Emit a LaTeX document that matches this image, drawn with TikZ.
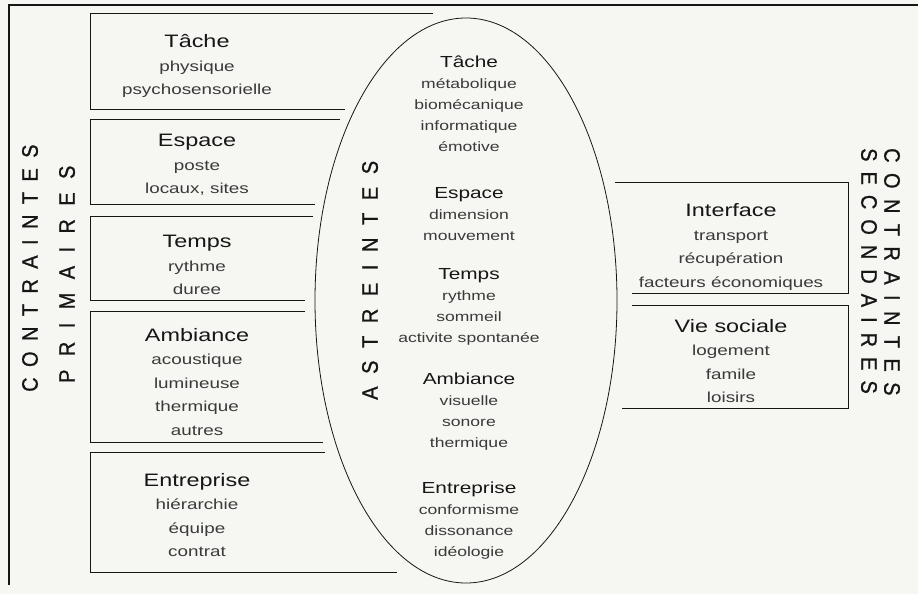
\documentclass[tikz,border=0pt]{standalone}
\usepackage{fontspec}
\usepackage{graphicx}
\setmainfont{Liberation Sans}
\newfontfamily\widesans[FakeStretch=1.3]{Liberation Sans}
\newfontfamily\capsans[FakeBold=1]{Liberation Sans}
\definecolor{paper}{RGB}{246,246,242}
\definecolor{ink}{RGB}{22,22,22}
\definecolor{softink}{RGB}{58,58,58}

% headings inside the boxes and inside the ellipse
\newcommand\boxtitle[1]{{\fontsize{18}{23.5}\selectfont\color{ink}#1}}
\newcommand\ovaltitle[1]{{\fontsize{16}{21}\selectfont\color{ink}#1}}
% widely tracked capitals for the vertical labels
\newcommand\tracked[2]{\scalebox{1}[1.12]{\capsans\addfontfeature{LetterSpace=#1}\fontsize{20}{20}\selectfont #2}}

\tikzset{
  frameline/.style={draw=ink, line width=1.6pt},
  boxline/.style={draw=ink, line width=0.8pt},
  sideblk/.style={align=center, inner sep=0pt, text=softink,
    font=\widesans\fontsize{14.5}{23.5}\selectfont},
  ovalblk/.style={align=center, inner sep=0pt, text=softink,
    font=\widesans\fontsize{13.5}{21}\selectfont},
  vlabel/.style={inner sep=0pt, text=ink, anchor=west},
}

\begin{document}
\begin{tikzpicture}[x=1pt, y=-1pt]
  \fill[paper] (0,0) rectangle (918,594);
  \useasboundingbox (0,0) rectangle (918,594);

  % outer frame (top and left)
  \draw[frameline] (9,585) -- (9,5) -- (918,5);

  % primary constraints: boxes open towards the ellipse
  \draw[boxline] (433,13)  -- (90,13)  -- (90,109) -- (345,109);
  \draw[boxline] (340,119) -- (90,119) -- (90,204) -- (315,204);
  \draw[boxline] (313,216) -- (90,216) -- (90,300) -- (305,300);
  \draw[boxline] (305,311) -- (90,311) -- (90,442) -- (323,442);
  \draw[boxline] (325,452) -- (90,452) -- (90,572) -- (397,572);

  % secondary constraints
  \draw[boxline] (615,182) -- (848,182) -- (848,293) -- (632,293);
  \draw[boxline] (632,305) -- (848,305) -- (848,408) -- (622,408);

  % the ellipse of strains
  \draw[boxline] (466,300.5) ellipse [x radius=151, y radius=282.5];

  % texts of the primary constraints
  \node[sideblk] (p1) at (197,66)  {\boxtitle{Tâche}\\physique\\psychosensorielle};
  \node[sideblk] (p2) at (197,165) {\boxtitle{Espace}\\poste\\locaux, sites};
  \node[sideblk] (p3) at (197,265) {\boxtitle{Temps}\\rythme\\duree};
  \node[sideblk] (p4) at (197,382) {\boxtitle{Ambiance}\\acoustique\\lumineuse\\thermique\\autres};
  \node[sideblk] (p5) at (197,515) {\boxtitle{Entreprise}\\hiérarchie\\équipe\\contrat};

  % texts of the strains
  \node[ovalblk] (a1) at (469,104) {\ovaltitle{Tâche}\\métabolique\\biomécanique\\informatique\\émotive};
  \node[ovalblk] (a2) at (469,214) {\ovaltitle{Espace}\\dimension\\mouvement};
  \node[ovalblk] (a3) at (469,307) {\ovaltitle{Temps}\\rythme\\sommeil\\activite spontanée};
  \node[ovalblk] (a4) at (469,412) {\ovaltitle{Ambiance}\\visuelle\\sonore\\thermique};
  \node[ovalblk] (a5) at (469,521) {\ovaltitle{Entreprise}\\conformisme\\dissonance\\idéologie};

  % texts of the secondary constraints
  \node[sideblk] (s1) at (731,247) {\boxtitle{Interface}\\transport\\récupération\\facteurs économiques};
  \node[sideblk] (s2) at (731,361) {\boxtitle{Vie sociale}\\logement\\famile\\loisirs};

  % vertical labels
  \node[vlabel, rotate=90]  (lab1) at (30,392)  {\tracked{52}{CONTRAINTES}};
  \node[vlabel, rotate=90]  (lab2) at (67,383)  {\tracked{67}{PRIMAIRES}};
  \node[vlabel, rotate=90]  (lab3) at (370,400) {\tracked{63}{ASTREINTES}};
  \node[vlabel, rotate=-90] (lab4) at (892,148) {\tracked{52}{CONTRAINTES}};
  \node[vlabel, rotate=-90] (lab5) at (869,148) {\tracked{50}{SECONDAIRES}};
\end{tikzpicture}
\end{document}
